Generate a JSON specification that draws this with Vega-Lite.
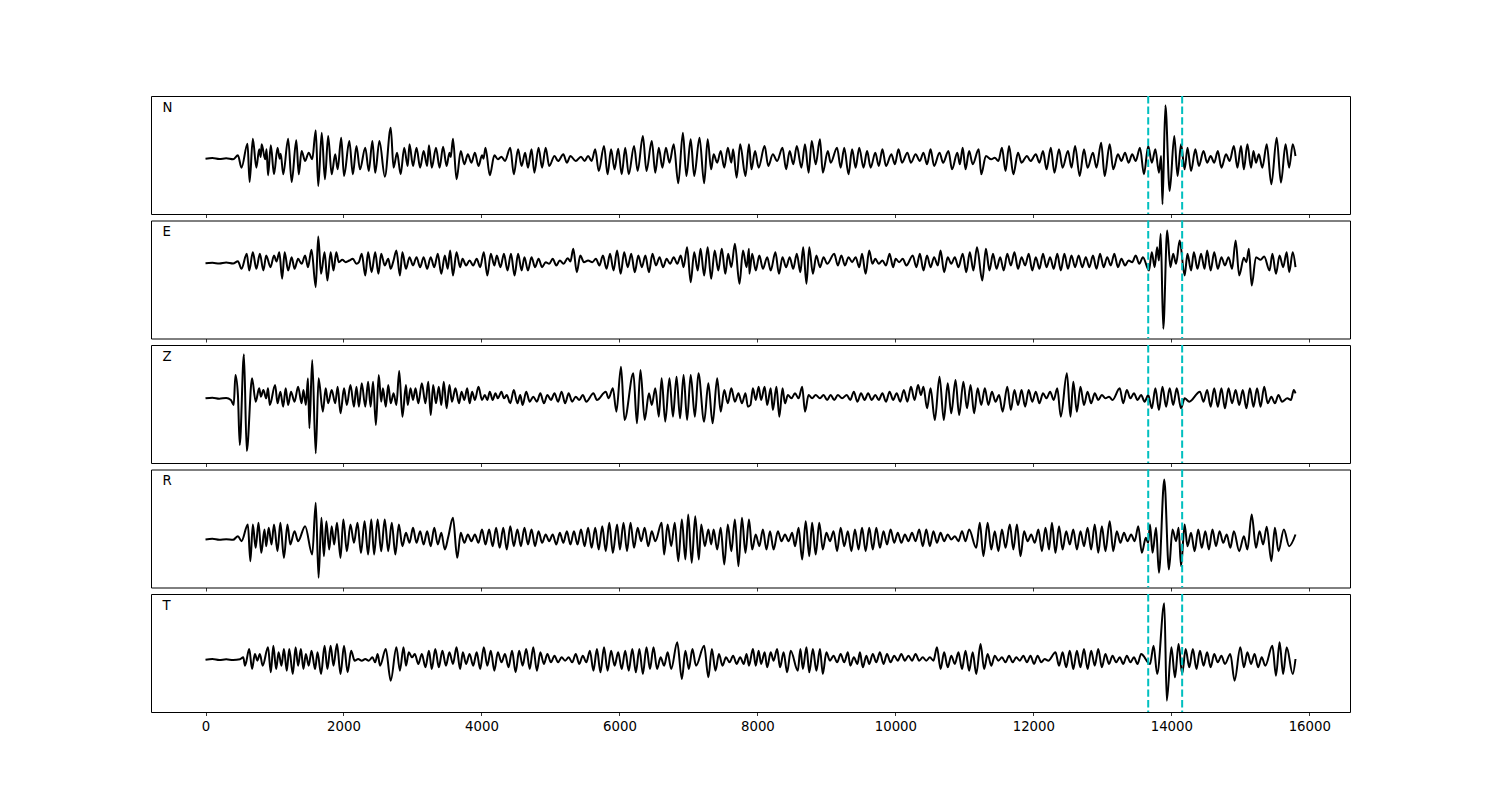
{
"$schema": "https://vega.github.io/schema/vega-lite/v6.json",
"padding": {"left": 150, "top": 94, "right": 10, "bottom": 10},
"background": "white",
"spacing": 6.5,
"bounds": "flush",
"config": {
  "view": {"stroke": "black", "strokeWidth": 1},
  "axis": {"domain": false, "grid": false, "tickColor": "black", "tickSize": 3.5, "tickWidth": 0.8, "labelFont": "DejaVu Sans", "labelFontSize": 13.3, "labelColor": "black", "labelPadding": 4, "title": null}
},
"datasets": {
"picks": [{"t": 13665}, {"t": 14157}],
"N": [{"t":0,"a":0},{"t":100,"a":2},{"t":200,"a":-1},{"t":300,"a":1},{"t":400,"a":-2},{"t":470,"a":10},{"t":522,"a":-27},{"t":609,"a":45},{"t":639,"a":-70},{"t":686,"a":60},{"t":737,"a":-27},{"t":778,"a":28},{"t":800,"a":5},{"t":814,"a":43},{"t":865,"a":-2},{"t":885,"a":28},{"t":906,"a":-50},{"t":947,"a":40},{"t":993,"a":-47},{"t":1044,"a":33},{"t":1075,"a":0},{"t":1090,"a":15},{"t":1127,"a":-47},{"t":1198,"a":60},{"t":1249,"a":-70},{"t":1316,"a":55},{"t":1352,"a":-47},{"t":1393,"a":23},{"t":1444,"a":-7},{"t":1496,"a":18},{"t":1547,"a":-2},{"t":1598,"a":85},{"t":1634,"a":-82},{"t":1685,"a":78},{"t":1731,"a":-62},{"t":1778,"a":68},{"t":1829,"a":-47},{"t":1880,"a":13},{"t":1916,"a":-32},{"t":1967,"a":63},{"t":2008,"a":-52},{"t":2085,"a":53},{"t":2136,"a":-47},{"t":2188,"a":38},{"t":2239,"a":-32},{"t":2316,"a":33},{"t":2367,"a":-37},{"t":2419,"a":53},{"t":2460,"a":-42},{"t":2521,"a":53},{"t":2600,"a":-54},{"t":2685,"a":93},{"t":2726,"a":-27},{"t":2777,"a":18},{"t":2829,"a":-47},{"t":2880,"a":33},{"t":2931,"a":-22},{"t":2957,"a":43},{"t":3008,"a":-22},{"t":3059,"a":33},{"t":3111,"a":-27},{"t":3162,"a":23},{"t":3213,"a":-22},{"t":3239,"a":40},{"t":3280,"a":-27},{"t":3341,"a":33},{"t":3393,"a":-27},{"t":3444,"a":36},{"t":3495,"a":-22},{"t":3536,"a":18},{"t":3555,"a":5},{"t":3587,"a":60},{"t":3639,"a":-62},{"t":3700,"a":23},{"t":3752,"a":-17},{"t":3803,"a":13},{"t":3854,"a":-12},{"t":3905,"a":18},{"t":3957,"a":-22},{"t":4008,"a":10},{"t":4030,"a":0},{"t":4059,"a":33},{"t":4121,"a":-50},{"t":4187,"a":10},{"t":4238,"a":-2},{"t":4290,"a":6},{"t":4341,"a":-7},{"t":4418,"a":33},{"t":4469,"a":-47},{"t":4531,"a":28},{"t":4582,"a":-22},{"t":4633,"a":18},{"t":4674,"a":-27},{"t":4726,"a":28},{"t":4767,"a":-42},{"t":4828,"a":33},{"t":4879,"a":-27},{"t":4931,"a":33},{"t":4982,"a":-22},{"t":5059,"a":8},{"t":5110,"a":-7},{"t":5187,"a":13},{"t":5238,"a":-12},{"t":5290,"a":8},{"t":5366,"a":-7},{"t":5443,"a":6},{"t":5495,"a":-7},{"t":5546,"a":8},{"t":5597,"a":-7},{"t":5649,"a":28},{"t":5700,"a":-37},{"t":5777,"a":38},{"t":5828,"a":-47},{"t":5879,"a":28},{"t":5930,"a":-32},{"t":5982,"a":30},{"t":6033,"a":-47},{"t":6084,"a":33},{"t":6135,"a":-47},{"t":6212,"a":38},{"t":6264,"a":-37},{"t":6340,"a":68},{"t":6392,"a":-37},{"t":6469,"a":53},{"t":6520,"a":-42},{"t":6571,"a":33},{"t":6623,"a":-27},{"t":6674,"a":33},{"t":6725,"a":-12},{"t":6787,"a":43},{"t":6853,"a":-74},{"t":6920,"a":78},{"t":6971,"a":-52},{"t":7033,"a":58},{"t":7084,"a":-52},{"t":7161,"a":63},{"t":7228,"a":-74},{"t":7279,"a":58},{"t":7330,"a":-32},{"t":7366,"a":13},{"t":7417,"a":-12},{"t":7468,"a":23},{"t":7520,"a":-27},{"t":7571,"a":33},{"t":7622,"a":-12},{"t":7648,"a":28},{"t":7699,"a":-57},{"t":7750,"a":43},{"t":7827,"a":-52},{"t":7878,"a":43},{"t":7914,"a":-32},{"t":7966,"a":23},{"t":8018,"a":-27},{"t":8105,"a":38},{"t":8157,"a":-22},{"t":8224,"a":13},{"t":8286,"a":-7},{"t":8364,"a":33},{"t":8416,"a":-32},{"t":8468,"a":23},{"t":8520,"a":-17},{"t":8571,"a":38},{"t":8638,"a":-27},{"t":8690,"a":43},{"t":8742,"a":-42},{"t":8788,"a":53},{"t":8845,"a":-17},{"t":8907,"a":58},{"t":8948,"a":-42},{"t":9021,"a":23},{"t":9062,"a":-12},{"t":9155,"a":33},{"t":9207,"a":-27},{"t":9259,"a":33},{"t":9321,"a":-47},{"t":9373,"a":28},{"t":9424,"a":-27},{"t":9476,"a":33},{"t":9538,"a":-27},{"t":9590,"a":23},{"t":9642,"a":-27},{"t":9709,"a":18},{"t":9760,"a":-22},{"t":9812,"a":28},{"t":9864,"a":-22},{"t":9942,"a":13},{"t":9993,"a":-17},{"t":10045,"a":28},{"t":10097,"a":-12},{"t":10174,"a":18},{"t":10226,"a":-12},{"t":10293,"a":13},{"t":10355,"a":-7},{"t":10407,"a":18},{"t":10459,"a":-17},{"t":10510,"a":28},{"t":10562,"a":-22},{"t":10640,"a":18},{"t":10692,"a":-12},{"t":10769,"a":23},{"t":10821,"a":-32},{"t":10898,"a":18},{"t":10935,"a":-17},{"t":10976,"a":33},{"t":11017,"a":-32},{"t":11069,"a":23},{"t":11121,"a":-17},{"t":11208,"a":28},{"t":11245,"a":-47},{"t":11312,"a":8},{"t":11390,"a":-2},{"t":11441,"a":3},{"t":11493,"a":-7},{"t":11545,"a":33},{"t":11597,"a":-37},{"t":11648,"a":38},{"t":11710,"a":-47},{"t":11778,"a":18},{"t":11829,"a":-12},{"t":11907,"a":8},{"t":11959,"a":-7},{"t":12036,"a":13},{"t":12088,"a":-12},{"t":12140,"a":23},{"t":12191,"a":-32},{"t":12253,"a":33},{"t":12305,"a":-42},{"t":12372,"a":28},{"t":12424,"a":-27},{"t":12502,"a":23},{"t":12553,"a":-27},{"t":12605,"a":38},{"t":12672,"a":-52},{"t":12734,"a":28},{"t":12786,"a":-27},{"t":12864,"a":18},{"t":12915,"a":-27},{"t":12983,"a":48},{"t":13034,"a":-52},{"t":13107,"a":43},{"t":13158,"a":-32},{"t":13226,"a":13},{"t":13277,"a":-7},{"t":13329,"a":18},{"t":13381,"a":-12},{"t":13433,"a":13},{"t":13484,"a":-7},{"t":13546,"a":33},{"t":13603,"a":-47},{"t":13665,"a":38},{"t":13717,"a":-12},{"t":13769,"a":28},{"t":13820,"a":-42},{"t":13852,"a":8},{"t":13872,"a":-137},{"t":13914,"a":160},{"t":13976,"a":-97},{"t":14043,"a":68},{"t":14090,"a":-52},{"t":14141,"a":43},{"t":14193,"a":-32},{"t":14235,"a":33},{"t":14286,"a":-37},{"t":14348,"a":28},{"t":14400,"a":-22},{"t":14467,"a":23},{"t":14519,"a":-12},{"t":14570,"a":8},{"t":14622,"a":-12},{"t":14674,"a":23},{"t":14726,"a":-27},{"t":14793,"a":13},{"t":14845,"a":-7},{"t":14907,"a":38},{"t":14958,"a":-27},{"t":15010,"a":38},{"t":15051,"a":-32},{"t":15103,"a":43},{"t":15155,"a":-27},{"t":15191,"a":23},{"t":15227,"a":-12},{"t":15269,"a":13},{"t":15320,"a":-27},{"t":15383,"a":43},{"t":15450,"a":-77},{"t":15527,"a":63},{"t":15589,"a":-72},{"t":15656,"a":43},{"t":15708,"a":-27},{"t":15760,"a":43},{"t":15800,"a":8}],
"E": [{"t":0,"a":0},{"t":100,"a":1},{"t":200,"a":-1},{"t":300,"a":2},{"t":400,"a":-1},{"t":470,"a":6},{"t":522,"a":-17},{"t":598,"a":28},{"t":634,"a":-22},{"t":686,"a":33},{"t":737,"a":-17},{"t":788,"a":28},{"t":839,"a":-22},{"t":880,"a":23},{"t":942,"a":-12},{"t":993,"a":23},{"t":1030,"a":5},{"t":1070,"a":33},{"t":1111,"a":-47},{"t":1147,"a":33},{"t":1198,"a":-22},{"t":1249,"a":18},{"t":1291,"a":-17},{"t":1342,"a":13},{"t":1393,"a":-2},{"t":1444,"a":23},{"t":1485,"a":-12},{"t":1537,"a":40},{"t":1598,"a":-72},{"t":1634,"a":80},{"t":1675,"a":-32},{"t":1726,"a":33},{"t":1767,"a":-52},{"t":1814,"a":33},{"t":1855,"a":-22},{"t":1896,"a":33},{"t":1932,"a":3},{"t":1983,"a":10},{"t":2034,"a":3},{"t":2085,"a":8},{"t":2136,"a":13},{"t":2188,"a":-2},{"t":2224,"a":3},{"t":2265,"a":28},{"t":2316,"a":-37},{"t":2357,"a":33},{"t":2408,"a":-27},{"t":2460,"a":33},{"t":2506,"a":-32},{"t":2547,"a":28},{"t":2598,"a":-7},{"t":2649,"a":13},{"t":2685,"a":-17},{"t":2726,"a":8},{"t":2767,"a":38},{"t":2818,"a":-37},{"t":2854,"a":33},{"t":2906,"a":-17},{"t":2957,"a":18},{"t":3008,"a":-7},{"t":3059,"a":18},{"t":3111,"a":-12},{"t":3162,"a":18},{"t":3213,"a":-17},{"t":3264,"a":18},{"t":3316,"a":-12},{"t":3367,"a":28},{"t":3418,"a":-32},{"t":3469,"a":23},{"t":3511,"a":-17},{"t":3546,"a":38},{"t":3587,"a":-37},{"t":3639,"a":33},{"t":3690,"a":-12},{"t":3726,"a":13},{"t":3777,"a":-7},{"t":3828,"a":8},{"t":3880,"a":-7},{"t":3931,"a":13},{"t":3982,"a":-12},{"t":4034,"a":33},{"t":4085,"a":-37},{"t":4136,"a":28},{"t":4187,"a":-7},{"t":4223,"a":23},{"t":4275,"a":-12},{"t":4326,"a":28},{"t":4377,"a":-22},{"t":4428,"a":28},{"t":4480,"a":-37},{"t":4531,"a":28},{"t":4582,"a":-22},{"t":4623,"a":18},{"t":4674,"a":-22},{"t":4726,"a":18},{"t":4777,"a":-12},{"t":4828,"a":13},{"t":4879,"a":-12},{"t":4931,"a":3},{"t":4982,"a":-2},{"t":5033,"a":13},{"t":5085,"a":-7},{"t":5136,"a":8},{"t":5190,"a":-2},{"t":5250,"a":15},{"t":5290,"a":5},{"t":5331,"a":43},{"t":5382,"a":-27},{"t":5433,"a":23},{"t":5485,"a":3},{"t":5546,"a":8},{"t":5607,"a":3},{"t":5659,"a":13},{"t":5710,"a":-7},{"t":5761,"a":23},{"t":5813,"a":-17},{"t":5864,"a":28},{"t":5915,"a":-22},{"t":5966,"a":38},{"t":6018,"a":-32},{"t":6069,"a":33},{"t":6120,"a":-12},{"t":6171,"a":28},{"t":6223,"a":-27},{"t":6274,"a":23},{"t":6325,"a":-12},{"t":6376,"a":23},{"t":6428,"a":-27},{"t":6479,"a":28},{"t":6530,"a":-7},{"t":6582,"a":18},{"t":6633,"a":-12},{"t":6684,"a":13},{"t":6735,"a":-2},{"t":6787,"a":18},{"t":6838,"a":-2},{"t":6889,"a":23},{"t":6930,"a":-12},{"t":6981,"a":48},{"t":7033,"a":-57},{"t":7084,"a":33},{"t":7135,"a":-22},{"t":7176,"a":43},{"t":7228,"a":-37},{"t":7279,"a":48},{"t":7330,"a":-47},{"t":7381,"a":38},{"t":7433,"a":-22},{"t":7484,"a":43},{"t":7535,"a":-32},{"t":7576,"a":28},{"t":7622,"a":-12},{"t":7674,"a":58},{"t":7740,"a":-62},{"t":7791,"a":38},{"t":7843,"a":-12},{"t":7878,"a":43},{"t":7883,"a":-32},{"t":7924,"a":28},{"t":7976,"a":-22},{"t":8028,"a":23},{"t":8080,"a":-17},{"t":8142,"a":18},{"t":8193,"a":-22},{"t":8261,"a":33},{"t":8312,"a":-32},{"t":8364,"a":18},{"t":8416,"a":-12},{"t":8468,"a":18},{"t":8519,"a":-17},{"t":8571,"a":28},{"t":8623,"a":-27},{"t":8664,"a":48},{"t":8711,"a":-62},{"t":8752,"a":48},{"t":8804,"a":-32},{"t":8855,"a":23},{"t":8907,"a":-12},{"t":8959,"a":18},{"t":9011,"a":-2},{"t":9114,"a":28},{"t":9166,"a":-7},{"t":9217,"a":23},{"t":9269,"a":-7},{"t":9321,"a":18},{"t":9373,"a":3},{"t":9424,"a":18},{"t":9476,"a":-12},{"t":9517,"a":28},{"t":9569,"a":-32},{"t":9621,"a":38},{"t":9667,"a":-2},{"t":9709,"a":13},{"t":9760,"a":-2},{"t":9812,"a":8},{"t":9864,"a":-7},{"t":9916,"a":28},{"t":9967,"a":-12},{"t":10004,"a":13},{"t":10055,"a":3},{"t":10107,"a":13},{"t":10159,"a":-7},{"t":10252,"a":23},{"t":10304,"a":-12},{"t":10355,"a":28},{"t":10407,"a":-22},{"t":10459,"a":23},{"t":10510,"a":-12},{"t":10562,"a":18},{"t":10614,"a":-7},{"t":10655,"a":38},{"t":10707,"a":-27},{"t":10759,"a":18},{"t":10810,"a":-2},{"t":10862,"a":18},{"t":10914,"a":-12},{"t":10976,"a":28},{"t":11028,"a":-27},{"t":11079,"a":33},{"t":11131,"a":-22},{"t":11183,"a":48},{"t":11260,"a":-52},{"t":11312,"a":43},{"t":11364,"a":-22},{"t":11415,"a":28},{"t":11467,"a":-17},{"t":11519,"a":18},{"t":11571,"a":-22},{"t":11622,"a":28},{"t":11674,"a":-7},{"t":11726,"a":33},{"t":11778,"a":-17},{"t":11829,"a":18},{"t":11881,"a":-7},{"t":11933,"a":28},{"t":11984,"a":-22},{"t":12036,"a":18},{"t":12088,"a":-17},{"t":12140,"a":28},{"t":12191,"a":-12},{"t":12243,"a":18},{"t":12295,"a":-17},{"t":12347,"a":28},{"t":12398,"a":-22},{"t":12450,"a":28},{"t":12502,"a":-17},{"t":12553,"a":23},{"t":12605,"a":-12},{"t":12657,"a":23},{"t":12709,"a":-12},{"t":12760,"a":18},{"t":12812,"a":-12},{"t":12864,"a":23},{"t":12915,"a":-17},{"t":12967,"a":28},{"t":13019,"a":-12},{"t":13071,"a":18},{"t":13122,"a":-7},{"t":13174,"a":28},{"t":13226,"a":-12},{"t":13277,"a":13},{"t":13329,"a":-7},{"t":13381,"a":8},{"t":13433,"a":3},{"t":13484,"a":23},{"t":13536,"a":-2},{"t":13588,"a":18},{"t":13676,"a":-22},{"t":13717,"a":33},{"t":13758,"a":-12},{"t":13794,"a":48},{"t":13820,"a":8},{"t":13846,"a":88},{"t":13883,"a":-197},{"t":13940,"a":98},{"t":13986,"a":-12},{"t":14027,"a":28},{"t":14069,"a":-2},{"t":14121,"a":68},{"t":14193,"a":-37},{"t":14234,"a":28},{"t":14286,"a":-22},{"t":14327,"a":33},{"t":14379,"a":-17},{"t":14431,"a":28},{"t":14482,"a":-17},{"t":14519,"a":38},{"t":14570,"a":-22},{"t":14622,"a":33},{"t":14674,"a":-17},{"t":14726,"a":18},{"t":14777,"a":-7},{"t":14829,"a":18},{"t":14881,"a":-17},{"t":14932,"a":68},{"t":14984,"a":-37},{"t":15051,"a":16},{"t":15088,"a":3},{"t":15124,"a":43},{"t":15165,"a":-67},{"t":15227,"a":18},{"t":15294,"a":10},{"t":15346,"a":20},{"t":15424,"a":-22},{"t":15465,"a":28},{"t":15517,"a":-32},{"t":15569,"a":23},{"t":15621,"a":-12},{"t":15672,"a":33},{"t":15709,"a":-27},{"t":15760,"a":33},{"t":15800,"a":-12}],
"Z": [{"t":0,"a":0},{"t":100,"a":2},{"t":200,"a":-1},{"t":300,"a":1},{"t":368,"a":-5},{"t":409,"a":-20},{"t":434,"a":70},{"t":470,"a":10},{"t":496,"a":-140},{"t":557,"a":132},{"t":598,"a":-158},{"t":675,"a":60},{"t":727,"a":-10},{"t":778,"a":30},{"t":804,"a":5},{"t":839,"a":25},{"t":880,"a":0},{"t":906,"a":30},{"t":932,"a":-20},{"t":1009,"a":40},{"t":1044,"a":-15},{"t":1085,"a":20},{"t":1126,"a":-25},{"t":1162,"a":30},{"t":1198,"a":-20},{"t":1239,"a":20},{"t":1291,"a":-10},{"t":1342,"a":35},{"t":1393,"a":-15},{"t":1419,"a":25},{"t":1455,"a":-20},{"t":1485,"a":60},{"t":1506,"a":-90},{"t":1547,"a":115},{"t":1598,"a":-165},{"t":1639,"a":60},{"t":1701,"a":-40},{"t":1742,"a":30},{"t":1778,"a":-15},{"t":1829,"a":25},{"t":1880,"a":-15},{"t":1916,"a":35},{"t":1957,"a":-45},{"t":2008,"a":30},{"t":2049,"a":-20},{"t":2101,"a":40},{"t":2152,"a":-25},{"t":2188,"a":35},{"t":2224,"a":-25},{"t":2265,"a":45},{"t":2316,"a":-25},{"t":2357,"a":50},{"t":2393,"a":-25},{"t":2429,"a":50},{"t":2470,"a":-80},{"t":2511,"a":70},{"t":2547,"a":-10},{"t":2572,"a":30},{"t":2613,"a":-25},{"t":2649,"a":40},{"t":2685,"a":-15},{"t":2726,"a":15},{"t":2767,"a":-20},{"t":2808,"a":82},{"t":2854,"a":-55},{"t":2906,"a":40},{"t":2931,"a":-20},{"t":2972,"a":30},{"t":3008,"a":-5},{"t":3044,"a":30},{"t":3085,"a":-15},{"t":3136,"a":45},{"t":3188,"a":-15},{"t":3229,"a":50},{"t":3265,"a":-50},{"t":3300,"a":40},{"t":3341,"a":-15},{"t":3382,"a":35},{"t":3418,"a":-20},{"t":3454,"a":50},{"t":3495,"a":-30},{"t":3536,"a":40},{"t":3572,"a":-10},{"t":3623,"a":30},{"t":3675,"a":-15},{"t":3711,"a":20},{"t":3752,"a":-5},{"t":3793,"a":30},{"t":3829,"a":-15},{"t":3864,"a":20},{"t":3905,"a":-5},{"t":3957,"a":35},{"t":4008,"a":-5},{"t":4049,"a":10},{"t":4085,"a":-5},{"t":4121,"a":20},{"t":4162,"a":-5},{"t":4203,"a":15},{"t":4238,"a":0},{"t":4290,"a":20},{"t":4326,"a":0},{"t":4367,"a":10},{"t":4418,"a":-15},{"t":4469,"a":25},{"t":4521,"a":-15},{"t":4562,"a":10},{"t":4597,"a":-20},{"t":4649,"a":20},{"t":4700,"a":-10},{"t":4751,"a":5},{"t":4803,"a":-10},{"t":4854,"a":15},{"t":4905,"a":-15},{"t":4956,"a":10},{"t":5008,"a":-5},{"t":5059,"a":15},{"t":5110,"a":-10},{"t":5162,"a":20},{"t":5213,"a":-15},{"t":5264,"a":15},{"t":5315,"a":-10},{"t":5367,"a":5},{"t":5418,"a":-5},{"t":5469,"a":10},{"t":5520,"a":-10},{"t":5623,"a":15},{"t":5674,"a":-5},{"t":5802,"a":20},{"t":5843,"a":0},{"t":5905,"a":30},{"t":5956,"a":-40},{"t":6023,"a":95},{"t":6074,"a":-65},{"t":6202,"a":75},{"t":6254,"a":-75},{"t":6305,"a":85},{"t":6366,"a":-65},{"t":6428,"a":15},{"t":6469,"a":-20},{"t":6520,"a":30},{"t":6571,"a":-55},{"t":6612,"a":60},{"t":6664,"a":-70},{"t":6725,"a":60},{"t":6776,"a":-55},{"t":6828,"a":65},{"t":6879,"a":-60},{"t":6930,"a":70},{"t":6981,"a":-65},{"t":7033,"a":70},{"t":7094,"a":-55},{"t":7145,"a":75},{"t":7228,"a":-70},{"t":7289,"a":45},{"t":7351,"a":-75},{"t":7417,"a":60},{"t":7468,"a":-40},{"t":7520,"a":25},{"t":7571,"a":-15},{"t":7622,"a":30},{"t":7674,"a":-10},{"t":7725,"a":15},{"t":7776,"a":-15},{"t":7827,"a":15},{"t":7862,"a":-25},{"t":7899,"a":-20},{"t":7935,"a":30},{"t":7976,"a":-5},{"t":8018,"a":35},{"t":8054,"a":-5},{"t":8105,"a":35},{"t":8142,"a":-20},{"t":8193,"a":30},{"t":8224,"a":-35},{"t":8276,"a":35},{"t":8318,"a":-55},{"t":8364,"a":30},{"t":8400,"a":-15},{"t":8442,"a":10},{"t":8493,"a":0},{"t":8545,"a":15},{"t":8597,"a":0},{"t":8649,"a":35},{"t":8690,"a":-40},{"t":8742,"a":10},{"t":8793,"a":0},{"t":8845,"a":10},{"t":8907,"a":0},{"t":8959,"a":10},{"t":9011,"a":-5},{"t":9062,"a":10},{"t":9114,"a":-5},{"t":9166,"a":10},{"t":9228,"a":0},{"t":9295,"a":10},{"t":9347,"a":-5},{"t":9398,"a":20},{"t":9450,"a":-10},{"t":9502,"a":15},{"t":9554,"a":-5},{"t":9605,"a":15},{"t":9657,"a":-5},{"t":9709,"a":10},{"t":9760,"a":-5},{"t":9812,"a":15},{"t":9864,"a":-10},{"t":9916,"a":20},{"t":9967,"a":-5},{"t":10019,"a":15},{"t":10071,"a":-10},{"t":10123,"a":25},{"t":10174,"a":-10},{"t":10226,"a":35},{"t":10278,"a":-5},{"t":10329,"a":40},{"t":10370,"a":10},{"t":10407,"a":35},{"t":10459,"a":-30},{"t":10510,"a":30},{"t":10572,"a":-65},{"t":10640,"a":65},{"t":10702,"a":-65},{"t":10759,"a":45},{"t":10810,"a":-45},{"t":10872,"a":55},{"t":10924,"a":-50},{"t":10986,"a":50},{"t":11038,"a":-30},{"t":11090,"a":40},{"t":11141,"a":-45},{"t":11193,"a":30},{"t":11245,"a":-20},{"t":11297,"a":30},{"t":11348,"a":-20},{"t":11400,"a":20},{"t":11452,"a":-10},{"t":11503,"a":10},{"t":11555,"a":-40},{"t":11622,"a":35},{"t":11674,"a":-35},{"t":11726,"a":25},{"t":11778,"a":-20},{"t":11829,"a":25},{"t":11881,"a":-25},{"t":11933,"a":25},{"t":11984,"a":-10},{"t":12036,"a":20},{"t":12088,"a":-15},{"t":12140,"a":15},{"t":12191,"a":0},{"t":12243,"a":20},{"t":12295,"a":-5},{"t":12347,"a":30},{"t":12398,"a":-55},{"t":12486,"a":75},{"t":12538,"a":-55},{"t":12579,"a":50},{"t":12631,"a":-40},{"t":12683,"a":35},{"t":12734,"a":-20},{"t":12786,"a":20},{"t":12838,"a":-15},{"t":12890,"a":15},{"t":12941,"a":-5},{"t":12993,"a":10},{"t":13045,"a":0},{"t":13097,"a":5},{"t":13148,"a":-5},{"t":13252,"a":30},{"t":13303,"a":-15},{"t":13355,"a":25},{"t":13407,"a":0},{"t":13458,"a":15},{"t":13510,"a":-5},{"t":13562,"a":10},{"t":13613,"a":-10},{"t":13665,"a":10},{"t":13717,"a":-30},{"t":13769,"a":30},{"t":13820,"a":-35},{"t":13872,"a":35},{"t":13924,"a":-25},{"t":13976,"a":30},{"t":14027,"a":-20},{"t":14079,"a":30},{"t":14141,"a":-30},{"t":14193,"a":0},{"t":14260,"a":-10},{"t":14415,"a":20},{"t":14467,"a":-10},{"t":14519,"a":25},{"t":14570,"a":-25},{"t":14622,"a":30},{"t":14674,"a":-25},{"t":14726,"a":30},{"t":14777,"a":-30},{"t":14829,"a":30},{"t":14881,"a":-15},{"t":14932,"a":25},{"t":14984,"a":-20},{"t":15036,"a":25},{"t":15088,"a":-30},{"t":15139,"a":30},{"t":15191,"a":-25},{"t":15243,"a":30},{"t":15294,"a":-25},{"t":15346,"a":35},{"t":15398,"a":-15},{"t":15450,"a":5},{"t":15501,"a":-15},{"t":15553,"a":10},{"t":15605,"a":-10},{"t":15682,"a":0},{"t":15734,"a":-5},{"t":15775,"a":25},{"t":15800,"a":15}],
"R": [{"t":0,"a":0},{"t":100,"a":2},{"t":200,"a":-1},{"t":300,"a":1},{"t":400,"a":-1},{"t":470,"a":10},{"t":522,"a":-5},{"t":614,"a":45},{"t":650,"a":-65},{"t":686,"a":45},{"t":727,"a":-25},{"t":768,"a":50},{"t":809,"a":-40},{"t":855,"a":30},{"t":880,"a":-20},{"t":916,"a":35},{"t":957,"a":-15},{"t":993,"a":45},{"t":1044,"a":-35},{"t":1085,"a":50},{"t":1137,"a":-55},{"t":1188,"a":45},{"t":1229,"a":-15},{"t":1291,"a":25},{"t":1342,"a":-5},{"t":1444,"a":40},{"t":1547,"a":-45},{"t":1598,"a":110},{"t":1639,"a":-115},{"t":1680,"a":65},{"t":1716,"a":-50},{"t":1752,"a":55},{"t":1793,"a":-30},{"t":1829,"a":40},{"t":1865,"a":-15},{"t":1906,"a":50},{"t":1957,"a":-55},{"t":1998,"a":60},{"t":2049,"a":-35},{"t":2101,"a":45},{"t":2152,"a":-10},{"t":2203,"a":50},{"t":2254,"a":-40},{"t":2306,"a":55},{"t":2357,"a":-45},{"t":2403,"a":60},{"t":2444,"a":-45},{"t":2495,"a":60},{"t":2547,"a":-35},{"t":2598,"a":60},{"t":2649,"a":-35},{"t":2700,"a":50},{"t":2752,"a":-45},{"t":2803,"a":45},{"t":2854,"a":-20},{"t":2906,"a":20},{"t":2957,"a":-10},{"t":3008,"a":35},{"t":3059,"a":-10},{"t":3111,"a":25},{"t":3162,"a":-15},{"t":3213,"a":25},{"t":3264,"a":-20},{"t":3316,"a":35},{"t":3367,"a":-15},{"t":3418,"a":20},{"t":3469,"a":-30},{"t":3521,"a":10},{"t":3587,"a":65},{"t":3649,"a":-55},{"t":3700,"a":20},{"t":3752,"a":-10},{"t":3803,"a":15},{"t":3854,"a":-5},{"t":3905,"a":15},{"t":3957,"a":-10},{"t":4008,"a":30},{"t":4059,"a":-15},{"t":4111,"a":30},{"t":4162,"a":-20},{"t":4213,"a":35},{"t":4264,"a":-25},{"t":4316,"a":35},{"t":4367,"a":-30},{"t":4418,"a":40},{"t":4469,"a":-20},{"t":4521,"a":30},{"t":4572,"a":-20},{"t":4623,"a":35},{"t":4674,"a":-15},{"t":4726,"a":30},{"t":4777,"a":-20},{"t":4828,"a":25},{"t":4879,"a":-10},{"t":4931,"a":15},{"t":4982,"a":-5},{"t":5033,"a":15},{"t":5085,"a":-15},{"t":5136,"a":20},{"t":5187,"a":-10},{"t":5238,"a":25},{"t":5290,"a":-15},{"t":5341,"a":25},{"t":5392,"a":-15},{"t":5443,"a":30},{"t":5495,"a":-20},{"t":5546,"a":35},{"t":5597,"a":-25},{"t":5649,"a":35},{"t":5700,"a":-30},{"t":5751,"a":40},{"t":5802,"a":-35},{"t":5853,"a":50},{"t":5905,"a":-40},{"t":5966,"a":45},{"t":6007,"a":-30},{"t":6059,"a":50},{"t":6110,"a":-35},{"t":6161,"a":50},{"t":6212,"a":-25},{"t":6264,"a":35},{"t":6315,"a":-5},{"t":6366,"a":35},{"t":6418,"a":-20},{"t":6469,"a":25},{"t":6520,"a":-5},{"t":6612,"a":50},{"t":6648,"a":-45},{"t":6699,"a":45},{"t":6751,"a":-20},{"t":6802,"a":50},{"t":6853,"a":-65},{"t":6905,"a":60},{"t":6956,"a":-60},{"t":6997,"a":75},{"t":7048,"a":-70},{"t":7099,"a":70},{"t":7151,"a":-60},{"t":7186,"a":45},{"t":7238,"a":-20},{"t":7289,"a":30},{"t":7330,"a":-15},{"t":7366,"a":30},{"t":7417,"a":-30},{"t":7468,"a":35},{"t":7520,"a":-75},{"t":7571,"a":45},{"t":7622,"a":-35},{"t":7674,"a":60},{"t":7725,"a":-80},{"t":7776,"a":65},{"t":7827,"a":-40},{"t":7878,"a":60},{"t":7924,"a":-30},{"t":7976,"a":15},{"t":8028,"a":-20},{"t":8080,"a":30},{"t":8131,"a":-30},{"t":8183,"a":25},{"t":8235,"a":-30},{"t":8297,"a":25},{"t":8349,"a":-5},{"t":8400,"a":15},{"t":8452,"a":-5},{"t":8504,"a":20},{"t":8545,"a":-20},{"t":8597,"a":35},{"t":8649,"a":-60},{"t":8700,"a":55},{"t":8752,"a":-50},{"t":8793,"a":50},{"t":8845,"a":-45},{"t":8897,"a":50},{"t":8948,"a":-30},{"t":9000,"a":20},{"t":9052,"a":-5},{"t":9104,"a":25},{"t":9155,"a":-35},{"t":9207,"a":35},{"t":9259,"a":-20},{"t":9311,"a":25},{"t":9362,"a":-35},{"t":9414,"a":30},{"t":9466,"a":-30},{"t":9517,"a":35},{"t":9569,"a":-35},{"t":9621,"a":35},{"t":9673,"a":-30},{"t":9724,"a":35},{"t":9776,"a":-25},{"t":9828,"a":25},{"t":9879,"a":-15},{"t":9931,"a":30},{"t":9983,"a":-10},{"t":10035,"a":20},{"t":10086,"a":-10},{"t":10138,"a":15},{"t":10190,"a":-5},{"t":10241,"a":20},{"t":10293,"a":-5},{"t":10345,"a":30},{"t":10397,"a":-20},{"t":10448,"a":30},{"t":10500,"a":-20},{"t":10552,"a":25},{"t":10603,"a":-10},{"t":10655,"a":20},{"t":10707,"a":-5},{"t":10759,"a":15},{"t":10810,"a":0},{"t":10862,"a":10},{"t":10914,"a":-5},{"t":10966,"a":25},{"t":11017,"a":-5},{"t":11069,"a":30},{"t":11172,"a":-25},{"t":11224,"a":50},{"t":11276,"a":-50},{"t":11338,"a":50},{"t":11390,"a":-30},{"t":11441,"a":25},{"t":11493,"a":-35},{"t":11545,"a":30},{"t":11597,"a":-25},{"t":11659,"a":45},{"t":11710,"a":-30},{"t":11762,"a":45},{"t":11814,"a":-50},{"t":11866,"a":25},{"t":11917,"a":-5},{"t":11969,"a":15},{"t":12021,"a":-10},{"t":12073,"a":30},{"t":12124,"a":-35},{"t":12176,"a":35},{"t":12228,"a":-30},{"t":12269,"a":50},{"t":12321,"a":-40},{"t":12372,"a":40},{"t":12424,"a":-30},{"t":12476,"a":25},{"t":12528,"a":-15},{"t":12579,"a":30},{"t":12631,"a":-30},{"t":12683,"a":25},{"t":12734,"a":-20},{"t":12786,"a":35},{"t":12838,"a":-30},{"t":12890,"a":45},{"t":12941,"a":-40},{"t":12993,"a":40},{"t":13045,"a":-35},{"t":13107,"a":55},{"t":13158,"a":-35},{"t":13210,"a":25},{"t":13262,"a":-10},{"t":13314,"a":20},{"t":13365,"a":-5},{"t":13417,"a":15},{"t":13469,"a":-5},{"t":13521,"a":40},{"t":13572,"a":-40},{"t":13630,"a":5},{"t":13665,"a":-10},{"t":13691,"a":45},{"t":13727,"a":-40},{"t":13779,"a":35},{"t":13820,"a":-100},{"t":13898,"a":180},{"t":13965,"a":-90},{"t":14017,"a":30},{"t":14069,"a":-5},{"t":14105,"a":35},{"t":14141,"a":-80},{"t":14193,"a":45},{"t":14234,"a":-20},{"t":14286,"a":20},{"t":14338,"a":-35},{"t":14390,"a":30},{"t":14441,"a":-25},{"t":14493,"a":25},{"t":14545,"a":-30},{"t":14596,"a":30},{"t":14648,"a":-20},{"t":14700,"a":25},{"t":14752,"a":-10},{"t":14803,"a":15},{"t":14855,"a":-25},{"t":14907,"a":25},{"t":14984,"a":-35},{"t":15052,"a":10},{"t":15103,"a":-30},{"t":15165,"a":75},{"t":15227,"a":-25},{"t":15279,"a":25},{"t":15331,"a":-15},{"t":15383,"a":38},{"t":15450,"a":-65},{"t":15501,"a":35},{"t":15553,"a":-35},{"t":15631,"a":30},{"t":15708,"a":-20},{"t":15800,"a":15}],
"T": [{"t":0,"a":0},{"t":100,"a":2},{"t":200,"a":-1},{"t":300,"a":1},{"t":400,"a":-1},{"t":500,"a":1},{"t":547,"a":7},{"t":573,"a":-18},{"t":634,"a":32},{"t":675,"a":-28},{"t":716,"a":17},{"t":752,"a":-3},{"t":788,"a":17},{"t":829,"a":-18},{"t":906,"a":37},{"t":947,"a":-38},{"t":983,"a":42},{"t":1024,"a":-28},{"t":1060,"a":22},{"t":1101,"a":-18},{"t":1137,"a":32},{"t":1178,"a":-33},{"t":1214,"a":32},{"t":1265,"a":-43},{"t":1306,"a":37},{"t":1342,"a":-18},{"t":1383,"a":32},{"t":1419,"a":-28},{"t":1455,"a":17},{"t":1496,"a":-18},{"t":1537,"a":27},{"t":1588,"a":-28},{"t":1624,"a":22},{"t":1675,"a":-43},{"t":1726,"a":42},{"t":1767,"a":-28},{"t":1814,"a":42},{"t":1855,"a":-18},{"t":1906,"a":47},{"t":1957,"a":-43},{"t":2008,"a":42},{"t":2060,"a":-38},{"t":2111,"a":27},{"t":2162,"a":-3},{"t":2213,"a":2},{"t":2265,"a":-3},{"t":2316,"a":2},{"t":2367,"a":-3},{"t":2419,"a":7},{"t":2460,"a":-8},{"t":2495,"a":17},{"t":2531,"a":-18},{"t":2613,"a":32},{"t":2685,"a":-63},{"t":2767,"a":37},{"t":2818,"a":-33},{"t":2870,"a":37},{"t":2906,"a":-18},{"t":2947,"a":22},{"t":2993,"a":7},{"t":3034,"a":17},{"t":3085,"a":-13},{"t":3136,"a":17},{"t":3188,"a":-23},{"t":3239,"a":27},{"t":3280,"a":-28},{"t":3331,"a":32},{"t":3382,"a":-23},{"t":3434,"a":27},{"t":3485,"a":-18},{"t":3536,"a":22},{"t":3587,"a":-13},{"t":3639,"a":37},{"t":3690,"a":-28},{"t":3731,"a":22},{"t":3777,"a":-13},{"t":3828,"a":17},{"t":3880,"a":-18},{"t":3931,"a":22},{"t":3982,"a":-28},{"t":4034,"a":37},{"t":4085,"a":-18},{"t":4136,"a":27},{"t":4187,"a":-33},{"t":4238,"a":22},{"t":4290,"a":-8},{"t":4341,"a":17},{"t":4392,"a":-23},{"t":4444,"a":27},{"t":4495,"a":-38},{"t":4546,"a":27},{"t":4597,"a":-18},{"t":4649,"a":32},{"t":4700,"a":-28},{"t":4751,"a":37},{"t":4803,"a":-33},{"t":4854,"a":22},{"t":4905,"a":-13},{"t":4956,"a":17},{"t":5008,"a":-8},{"t":5059,"a":12},{"t":5110,"a":-8},{"t":5162,"a":7},{"t":5213,"a":-3},{"t":5264,"a":7},{"t":5315,"a":-8},{"t":5367,"a":17},{"t":5418,"a":-13},{"t":5469,"a":12},{"t":5520,"a":-8},{"t":5572,"a":27},{"t":5623,"a":-33},{"t":5674,"a":32},{"t":5725,"a":-38},{"t":5777,"a":37},{"t":5828,"a":-33},{"t":5879,"a":27},{"t":5930,"a":-18},{"t":5982,"a":22},{"t":6033,"a":-28},{"t":6084,"a":27},{"t":6135,"a":-33},{"t":6187,"a":32},{"t":6238,"a":-38},{"t":6289,"a":32},{"t":6340,"a":-43},{"t":6392,"a":37},{"t":6443,"a":-28},{"t":6494,"a":37},{"t":6546,"a":-28},{"t":6597,"a":7},{"t":6648,"a":-18},{"t":6699,"a":22},{"t":6751,"a":-28},{"t":6838,"a":52},{"t":6905,"a":-58},{"t":6956,"a":27},{"t":7007,"a":-28},{"t":7058,"a":32},{"t":7110,"a":-18},{"t":7228,"a":42},{"t":7289,"a":-53},{"t":7340,"a":32},{"t":7392,"a":-33},{"t":7443,"a":17},{"t":7494,"a":-18},{"t":7545,"a":7},{"t":7597,"a":-8},{"t":7648,"a":12},{"t":7699,"a":-13},{"t":7750,"a":7},{"t":7802,"a":-13},{"t":7843,"a":17},{"t":7878,"a":-18},{"t":7935,"a":32},{"t":7976,"a":-18},{"t":8018,"a":27},{"t":8054,"a":-13},{"t":8105,"a":22},{"t":8142,"a":-23},{"t":8193,"a":22},{"t":8235,"a":-3},{"t":8286,"a":32},{"t":8328,"a":-23},{"t":8380,"a":22},{"t":8431,"a":-38},{"t":8483,"a":27},{"t":8586,"a":-33},{"t":8623,"a":32},{"t":8659,"a":-28},{"t":8711,"a":37},{"t":8752,"a":-38},{"t":8804,"a":32},{"t":8855,"a":-33},{"t":8907,"a":32},{"t":8948,"a":-43},{"t":9000,"a":22},{"t":9052,"a":-3},{"t":9104,"a":12},{"t":9155,"a":-8},{"t":9207,"a":17},{"t":9259,"a":-8},{"t":9311,"a":22},{"t":9347,"a":-18},{"t":9398,"a":7},{"t":9450,"a":-13},{"t":9486,"a":22},{"t":9528,"a":-23},{"t":9579,"a":12},{"t":9621,"a":-13},{"t":9673,"a":17},{"t":9724,"a":-8},{"t":9776,"a":22},{"t":9828,"a":-13},{"t":9879,"a":17},{"t":9931,"a":-8},{"t":9983,"a":12},{"t":10035,"a":-3},{"t":10086,"a":17},{"t":10138,"a":-3},{"t":10190,"a":12},{"t":10241,"a":-3},{"t":10293,"a":17},{"t":10345,"a":-3},{"t":10397,"a":7},{"t":10448,"a":-3},{"t":10500,"a":7},{"t":10552,"a":-3},{"t":10603,"a":37},{"t":10655,"a":-28},{"t":10707,"a":22},{"t":10759,"a":-23},{"t":10810,"a":12},{"t":10862,"a":-13},{"t":10914,"a":22},{"t":10966,"a":-28},{"t":11017,"a":27},{"t":11069,"a":-33},{"t":11121,"a":22},{"t":11172,"a":-43},{"t":11235,"a":47},{"t":11286,"a":-28},{"t":11338,"a":17},{"t":11390,"a":-18},{"t":11441,"a":12},{"t":11493,"a":-3},{"t":11545,"a":7},{"t":11597,"a":-8},{"t":11648,"a":12},{"t":11700,"a":-8},{"t":11752,"a":7},{"t":11804,"a":-3},{"t":11855,"a":12},{"t":11907,"a":-8},{"t":11959,"a":12},{"t":12010,"a":-13},{"t":12062,"a":12},{"t":12114,"a":-8},{"t":12165,"a":2},{"t":12217,"a":-3},{"t":12321,"a":22},{"t":12372,"a":-18},{"t":12424,"a":22},{"t":12476,"a":-23},{"t":12528,"a":27},{"t":12579,"a":-28},{"t":12631,"a":27},{"t":12683,"a":-23},{"t":12734,"a":32},{"t":12786,"a":-28},{"t":12838,"a":27},{"t":12890,"a":-18},{"t":12941,"a":32},{"t":12993,"a":-23},{"t":13045,"a":17},{"t":13097,"a":-13},{"t":13148,"a":12},{"t":13200,"a":-8},{"t":13252,"a":7},{"t":13303,"a":-13},{"t":13355,"a":12},{"t":13407,"a":-8},{"t":13458,"a":7},{"t":13510,"a":-13},{"t":13562,"a":17},{"t":13691,"a":-13},{"t":13743,"a":42},{"t":13795,"a":-43},{"t":13898,"a":169},{"t":13934,"a":-123},{"t":14001,"a":37},{"t":14053,"a":-53},{"t":14105,"a":47},{"t":14157,"a":-43},{"t":14208,"a":32},{"t":14260,"a":-23},{"t":14312,"a":32},{"t":14364,"a":-28},{"t":14415,"a":27},{"t":14467,"a":-18},{"t":14519,"a":22},{"t":14570,"a":-23},{"t":14622,"a":17},{"t":14674,"a":-8},{"t":14726,"a":12},{"t":14777,"a":-13},{"t":14855,"a":17},{"t":14917,"a":-63},{"t":15000,"a":37},{"t":15052,"a":-23},{"t":15103,"a":22},{"t":15155,"a":-13},{"t":15207,"a":17},{"t":15258,"a":-23},{"t":15310,"a":7},{"t":15362,"a":-18},{"t":15465,"a":42},{"t":15517,"a":-48},{"t":15569,"a":52},{"t":15621,"a":-43},{"t":15672,"a":37},{"t":15760,"a":-43},{"t":15800,"a":2}]
},
"vconcat": [
  {"width": 1199, "height": 118, "layer": [
    {"data": {"name": "N"}, "mark": {"type": "line", "interpolate": "monotone", "color": "black", "strokeWidth": 2},
     "encoding": {"x": {"field": "t", "type": "quantitative", "scale": {"domain": [-790, 16590], "nice": false, "zero": false}, "axis": {"values": [0,2000,4000,6000,8000,10000,12000,14000,16000], "labels": false}},
                  "y": {"field": "a", "type": "quantitative", "scale": {"domain": [-166, 188], "nice": false, "zero": false}, "axis": null}}},
    {"data": {"name": "picks"}, "mark": {"type": "rule", "color": "#00bfbf", "strokeWidth": 2, "strokeDash": [7.4, 3.2]}, "encoding": {"x": {"field": "t", "type": "quantitative"}}},
    {"data": {"values": [{"c": "N"}]}, "mark": {"type": "text", "align": "left", "baseline": "top", "font": "DejaVu Sans", "fontSize": 13.3, "color": "black"},
     "encoding": {"x": {"datum": -625}, "y": {"datum": 174}, "text": {"field": "c"}}}
  ]},
  {"width": 1199, "height": 118, "layer": [
    {"data": {"name": "E"}, "mark": {"type": "line", "interpolate": "monotone", "color": "black", "strokeWidth": 2},
     "encoding": {"x": {"field": "t", "type": "quantitative", "scale": {"domain": [-790, 16590], "nice": false, "zero": false}, "axis": {"values": [0,2000,4000,6000,8000,10000,12000,14000,16000], "labels": false}},
                  "y": {"field": "a", "type": "quantitative", "scale": {"domain": [-226, 128], "nice": false, "zero": false}, "axis": null}}},
    {"data": {"name": "picks"}, "mark": {"type": "rule", "color": "#00bfbf", "strokeWidth": 2, "strokeDash": [7.4, 3.2]}, "encoding": {"x": {"field": "t", "type": "quantitative"}}},
    {"data": {"values": [{"c": "E"}]}, "mark": {"type": "text", "align": "left", "baseline": "top", "font": "DejaVu Sans", "fontSize": 13.3, "color": "black"},
     "encoding": {"x": {"datum": -625}, "y": {"datum": 114}, "text": {"field": "c"}}}
  ]},
  {"width": 1199, "height": 118, "layer": [
    {"data": {"name": "Z"}, "mark": {"type": "line", "interpolate": "monotone", "color": "black", "strokeWidth": 2},
     "encoding": {"x": {"field": "t", "type": "quantitative", "scale": {"domain": [-790, 16590], "nice": false, "zero": false}, "axis": {"values": [0,2000,4000,6000,8000,10000,12000,14000,16000], "labels": false}},
                  "y": {"field": "a", "type": "quantitative", "scale": {"domain": [-194, 160], "nice": false, "zero": false}, "axis": null}}},
    {"data": {"name": "picks"}, "mark": {"type": "rule", "color": "#00bfbf", "strokeWidth": 2, "strokeDash": [7.4, 3.2]}, "encoding": {"x": {"field": "t", "type": "quantitative"}}},
    {"data": {"values": [{"c": "Z"}]}, "mark": {"type": "text", "align": "left", "baseline": "top", "font": "DejaVu Sans", "fontSize": 13.3, "color": "black"},
     "encoding": {"x": {"datum": -625}, "y": {"datum": 146}, "text": {"field": "c"}}}
  ]},
  {"width": 1199, "height": 118, "layer": [
    {"data": {"name": "R"}, "mark": {"type": "line", "interpolate": "monotone", "color": "black", "strokeWidth": 2},
     "encoding": {"x": {"field": "t", "type": "quantitative", "scale": {"domain": [-790, 16590], "nice": false, "zero": false}, "axis": {"values": [0,2000,4000,6000,8000,10000,12000,14000,16000], "labels": false}},
                  "y": {"field": "a", "type": "quantitative", "scale": {"domain": [-144, 210], "nice": false, "zero": false}, "axis": null}}},
    {"data": {"name": "picks"}, "mark": {"type": "rule", "color": "#00bfbf", "strokeWidth": 2, "strokeDash": [7.4, 3.2]}, "encoding": {"x": {"field": "t", "type": "quantitative"}}},
    {"data": {"values": [{"c": "R"}]}, "mark": {"type": "text", "align": "left", "baseline": "top", "font": "DejaVu Sans", "fontSize": 13.3, "color": "black"},
     "encoding": {"x": {"datum": -625}, "y": {"datum": 196}, "text": {"field": "c"}}}
  ]},
  {"width": 1199, "height": 118, "layer": [
    {"data": {"name": "T"}, "mark": {"type": "line", "interpolate": "monotone", "color": "black", "strokeWidth": 2},
     "encoding": {"x": {"field": "t", "type": "quantitative", "scale": {"domain": [-790, 16590], "nice": false, "zero": false}, "axis": {"values": [0,2000,4000,6000,8000,10000,12000,14000,16000], "labels": true, "format": "d"}},
                  "y": {"field": "a", "type": "quantitative", "scale": {"domain": [-157, 197], "nice": false, "zero": false}, "axis": null}}},
    {"data": {"name": "picks"}, "mark": {"type": "rule", "color": "#00bfbf", "strokeWidth": 2, "strokeDash": [7.4, 3.2]}, "encoding": {"x": {"field": "t", "type": "quantitative"}}},
    {"data": {"values": [{"c": "T"}]}, "mark": {"type": "text", "align": "left", "baseline": "top", "font": "DejaVu Sans", "fontSize": 13.3, "color": "black"},
     "encoding": {"x": {"datum": -625}, "y": {"datum": 183}, "text": {"field": "c"}}}
  ]}
]
}
